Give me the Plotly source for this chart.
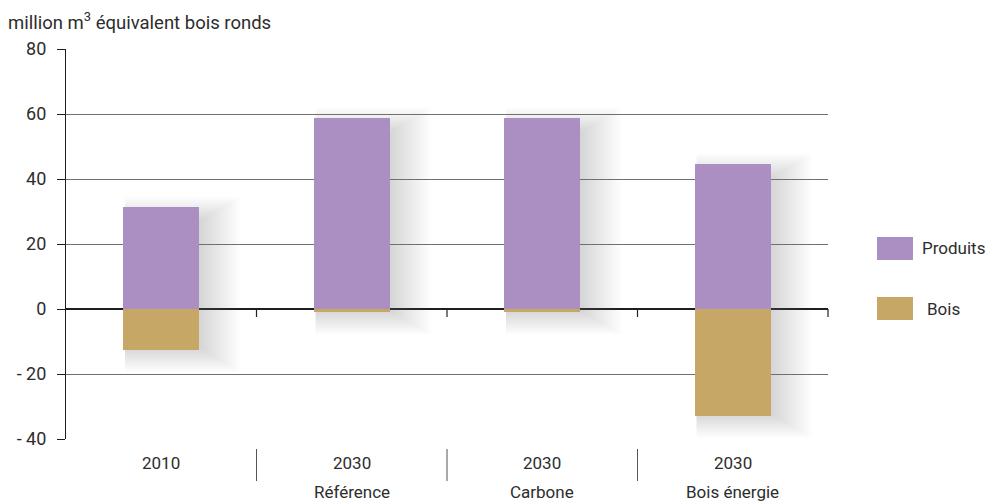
import plotly.graph_objects as go

# Données (million m3 équivalent bois ronds)
years = ["2010", "2030", "2030", "2030"]
scenarios = ["", "Référence", "Carbone", "Bois énergie"]
produits = [31.4, 58.8, 58.8, 44.6]
bois = [-12.5, -1.0, -1.0, -32.8]
y_ticks = [-40, -20, 0, 20, 40, 60, 80]
y_ticktext = ["- 40", "- 20", "0", "20", "40", "60", "80"]

PURPLE = "#AB8FC3"
GOLD = "#C6A765"
TEXT = "#2d2d2d"
FONT = "Roboto"
BAR_W = 0.4

# plot area geometry (pixels) used to convert shadow sizes into axis units
PLOT_L, PLOT_R, PLOT_T, PLOT_B = 66, 828, 49, 439
Y_MIN, Y_MAX = -40, 80
X_MIN, X_MAX = -0.5, 3.5
PX_X = (X_MAX - X_MIN) / (PLOT_R - PLOT_L)
PX_Y = (Y_MAX - Y_MIN) / (PLOT_B - PLOT_T)

x = list(range(len(years)))

fig = go.Figure()
fig.add_bar(x=x, y=produits, name="Produits", marker=dict(color=PURPLE, line=dict(width=0)), width=BAR_W)
fig.add_bar(x=x, y=bois, name="Bois", marker=dict(color=GOLD, line=dict(width=0)), width=BAR_W)

shapes = []
# soft drop shadow to the right of each stacked bar (stack of faint rectangles)
N, R, DX, DY, VF = 28, 28.0, 14.0, 6.0, 0.6
for i in x:
    top, bot = produits[i], bois[i]
    left, right = i - BAR_W / 2, i + BAR_W / 2
    for k in range(N):
        r = -R + 2 * R * (k + 0.5) / N
        x0 = left + 2 * PX_X
        x1 = right + (DX + r) * PX_X
        y0 = bot - (DY + VF * r) * PX_Y
        y1 = top + (VF * r - DY) * PX_Y
        if x1 <= x0 or y1 <= y0:
            continue
        shapes.append(dict(type="rect", xref="x", yref="y", layer="between",
                           x0=x0, x1=x1, y0=y0, y1=y1,
                           fillcolor="rgba(110,113,120,0.016)", line=dict(width=0)))

# category marks on the zero line
for b in [0.25, 0.5, 0.75, 1.0]:
    shapes.append(dict(type="line", xref="x domain", yref="y", x0=b, x1=b, y0=0, y1=-8 * PX_Y,
                       line=dict(color="#222222", width=1.2), layer="above"))
# separators between category labels
for b in [0.25, 0.5, 0.75]:
    shapes.append(dict(type="line", xref="x domain", yref="paper", x0=b, x1=b,
                       y0=(PLOT_B - 449) / (PLOT_B - PLOT_T), y1=(PLOT_B - 481) / (PLOT_B - PLOT_T),
                       line=dict(color="#555555", width=1)))

def px_x(p):
    return (p - PLOT_L) / (PLOT_R - PLOT_L)

def px_y(p):
    return (PLOT_B - p) / (PLOT_B - PLOT_T)

# legend drawn as swatches + labels
legend_items = [("Produits", PURPLE, 237, 260, 920), ("Bois", GOLD, 297, 320, 925)]
annotations = []
for label, col, top_px, bot_px, tx in legend_items:
    shapes.append(dict(type="rect", xref="paper", yref="paper", x0=px_x(877), x1=px_x(913),
                       y0=px_y(bot_px), y1=px_y(top_px), fillcolor=col, line=dict(width=0)))
    annotations.append(dict(xref="paper", yref="paper", x=px_x(tx), y=px_y((top_px + bot_px) / 2),
                            text=label, showarrow=False, xanchor="left", yanchor="middle",
                            font=dict(family=FONT, size=17, color=TEXT)))

# category labels
for i in x:
    annotations.append(dict(xref="x", yref="paper", x=i, y=px_y(463), text=years[i],
                            showarrow=False, xanchor="center", yanchor="middle",
                            font=dict(family=FONT, size=17, color=TEXT)))
    if scenarios[i]:
        annotations.append(dict(xref="x", yref="paper", x=i, y=px_y(492), text=scenarios[i],
                                showarrow=False, xanchor="center", yanchor="middle",
                                font=dict(family=FONT, size=17, color=TEXT)))

# unit label
annotations.append(dict(xref="paper", yref="paper", x=px_x(6), y=px_y(21),
                        text="million m<sup>3</sup> équivalent bois ronds", showarrow=False,
                        xanchor="left", yanchor="middle",
                        font=dict(family=FONT, size=18.5, color=TEXT)))

fig.update_layout(
    width=985, height=501,
    margin=dict(l=PLOT_L, r=985 - PLOT_R, t=PLOT_T, b=501 - PLOT_B),
    barmode="relative",
    bargap=0,
    showlegend=False,
    paper_bgcolor="white",
    plot_bgcolor="rgba(0,0,0,0)",
    shapes=shapes,
    annotations=annotations,
    font=dict(family=FONT, color=TEXT),
)
fig.update_xaxes(range=[X_MIN, X_MAX], showgrid=False, showticklabels=False, ticks="",
                 zeroline=False, showline=False, fixedrange=True)
fig.update_yaxes(range=[Y_MIN, Y_MAX], tickvals=y_ticks, ticktext=y_ticktext,
                 showgrid=True, gridcolor="#707070", gridwidth=1,
                 zeroline=True, zerolinecolor="#1e1e1e", zerolinewidth=1.6,
                 showline=True, linecolor="#1e1e1e", linewidth=1.2,
                 ticks="outside", ticklen=8, tickcolor="#1e1e1e", tickwidth=1.2,
                 ticklabelstandoff=7,
                 tickfont=dict(family=FONT, size=18, color=TEXT))

fig.write_html("out.html")
